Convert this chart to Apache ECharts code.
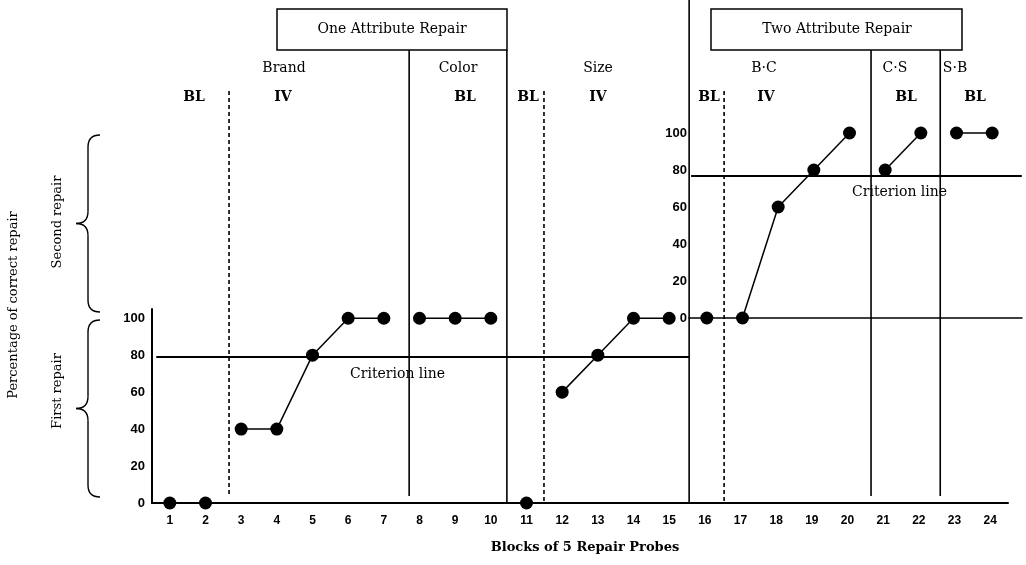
<!DOCTYPE html>
<html><head><meta charset="utf-8">
<script src="https://cdn.jsdelivr.net/npm/echarts@6/dist/echarts.min.js"></script>
<style>html,body{margin:0;padding:0;background:#fff}#c{width:1026px;height:565px}</style>
</head><body><div id="c"></div>
<script>
// ---- data ----
const blocks = ['1','2','3','4','5','6','7','8','9','10','11','12','13','14','15','16','17','18','19','20','21','22','23','24'];
const firstRepair = [0,0,40,40,80,100,100,100,100,100,0,60,80,100,100];   // blocks 1-15
const secondRepair = [0,0,60,80,100,80,100,100,100];                       // blocks 16-24
const phases = [[1,2],[3,7],[8,10],[11,11],[12,15],[16,16],[17,20],[21,22],[23,24]];
const yTickLabels = [0,20,40,60,80,100];
const criterionFirst = 79;
const criterionSecond = 77;
// phase-change lines (block position, dashed?)
const phaseLines = [[2.66,true],[7.71,false],[10.45,false],[11.49,true],[16.54,true],[20.66,false],[22.6,false]];

const serif = 'DejaVu Serif';
const sans = 'Liberation Sans';
const blk = '#000';

const series = [];
phases.forEach((p) => {
  const first = p[0] <= 15;
  const data = [];
  for (let b = p[0]; b <= p[1]; b++) {
    data.push([b, first ? firstRepair[b-1] : secondRepair[b-16]]);
  }
  series.push({
    type: 'line', data, xAxisIndex: first ? 1 : 2, yAxisIndex: first ? 0 : 1,
    symbol: 'circle', symbolSize: 13, clip: false, z: 5,
    itemStyle: {color: blk}, lineStyle: {color: blk, width: 1.5}, emphasis: {disabled: true}
  });
});
// criterion lines
series.push({
  type: 'line', data: [], xAxisIndex: 1, yAxisIndex: 0, z: 3,
  markLine: {silent: true, symbol: 'none', label: {show: false}, lineStyle: {color: blk, width: 1.8, type: 'solid'},
    data: [[{coord: [0.62, criterionFirst]}, {coord: [15.56, criterionFirst]}]]}
});
series.push({
  type: 'line', data: [], xAxisIndex: 2, yAxisIndex: 1, z: 3,
  markLine: {silent: true, symbol: 'none', label: {show: false}, lineStyle: {color: blk, width: 1.8, type: 'solid'},
    data: [[{coord: [15.56, criterionSecond]}, {coord: [24.83, criterionSecond]}]]}
});

const yLabel = {color: blk, fontFamily: sans, fontWeight: 'bold', fontSize: 13,
  formatter: v => yTickLabels.indexOf(v) >= 0 ? String(v) : ''};

const chart = echarts.init(document.getElementById('c'), null, {renderer: 'canvas'});
chart.setOption({
  animation: false,
  backgroundColor: '#fff',
  grid: [
    {left: 152, right: 18, top: 309, bottom: 62},
    {left: 689, right: 4, top: 133, bottom: 247}
  ],
  xAxis: [
    {type: 'category', gridIndex: 0, data: blocks, boundaryGap: true,
     axisLine: {lineStyle: {color: blk, width: 2}},
     axisTick: {inside: true, length: 4, interval: 0, lineStyle: {color: blk, width: 1}},
     axisLabel: {interval: 0, color: blk, fontFamily: sans, fontWeight: 'bold', fontSize: 12, margin: 12},
     splitLine: {show: false}},
    {type: 'value', gridIndex: 0, min: 0.5, max: 24.5, show: false},
    {type: 'value', gridIndex: 1, min: 15.5, max: 24.836,
     axisLine: {show: true, onZero: false, lineStyle: {color: blk, width: 1.5}},
     axisTick: {show: false}, axisLabel: {show: false}, splitLine: {show: false}}
  ],
  yAxis: [
    {type: 'value', gridIndex: 0, min: 0, max: 105, interval: 20,
     axisLine: {show: true, lineStyle: {color: blk, width: 2}}, axisTick: {show: false},
     axisLabel: Object.assign({margin: 7, showMaxLabel: false}, yLabel), splitLine: {show: false}},
    {type: 'value', gridIndex: 1, min: 0, max: 100, interval: 20,
     axisLine: {show: false}, axisTick: {show: false},
     axisLabel: Object.assign({margin: 2}, yLabel), splitLine: {show: false}}
  ],
  series
});

const px = v => chart.convertToPixel({xAxisIndex: 1}, v);
const g = [];
const lineStyle = (dash) => ({stroke: blk, lineWidth: 1.6, lineDash: dash ? [4, 3] : null});
// right (second repair) axis full-height line
g.push({type: 'line', shape: {x1: px(15.56), y1: 0, x2: px(15.56), y2: 503}, style: lineStyle(false), z: 10});
phaseLines.forEach(([x, dashed]) => {
  const top = dashed ? 91 : 50;
  const bottom = (x > 10 && x < 11) ? 503 : (dashed && x > 11 ? 503 : 496);
  g.push({type: 'line', shape: {x1: px(x), y1: top, x2: px(x), y2: bottom}, style: lineStyle(dashed), z: 10});
});
// boxes
g.push({type: 'rect', shape: {x: 277, y: 9, width: 230, height: 41}, style: {fill: '#fff', stroke: blk, lineWidth: 1.5}, z: 11});
g.push({type: 'rect', shape: {x: 711, y: 9, width: 251, height: 41}, style: {fill: '#fff', stroke: blk, lineWidth: 1.5}, z: 11});
const txt = (t, x, y, opts) => g.push({type: 'text', x, y, z: 12,
  style: Object.assign({text: t, fill: blk, font: '14px "' + serif + '"', align: 'center', verticalAlign: 'middle'}, opts || {})});
txt('One Attribute Repair', 392, 29);
txt('Two Attribute Repair', 837, 29);
[['Brand',284],['Color',458],['Size',598],['B·C',764],['C·S',895],['S·B',955]].forEach(([t,x]) => txt(t, x, 68));
[['BL',194],['IV',283],['BL',465],['BL',528],['IV',598],['BL',709],['IV',766],['BL',906],['BL',975]].forEach(([t,x]) => txt(t, x, 97, {font: 'bold 14px "' + serif + '"'}));
txt('Criterion line', 350, 374, {align: 'left'});
txt('Criterion line', 852, 192, {align: 'left'});
txt('Blocks of 5 Repair Probes', 585, 548, {font: 'bold 13px "' + serif + '"'});
// vertical titles
[['Percentage of correct repair', 14, 305], ['Second repair', 58, 222], ['First repair', 58, 391]].forEach(([t, x, y]) => {
  g.push({type: 'text', x, y, rotation: Math.PI / 2, z: 12,
    style: {text: t, fill: blk, font: '13px "' + serif + '"', align: 'center', verticalAlign: 'middle'}});
});
// braces built from quadratic curves and straight segments
function brace(top, bottom) {
  const xe = 100, xm = 88, xt = 76, mid = (top + bottom) / 2;
  const st = {stroke: blk, lineWidth: 1.4, fill: null};
  return [
    {type: 'bezierCurve', shape: {x1: xe, y1: top, cpx1: xm, cpy1: top, x2: xm, y2: top + 12}, style: st, z: 10},
    {type: 'line', shape: {x1: xm, y1: top + 12, x2: xm, y2: mid - 12}, style: st, z: 10},
    {type: 'bezierCurve', shape: {x1: xm, y1: mid - 12, cpx1: xm, cpy1: mid, x2: xt, y2: mid}, style: st, z: 10},
    {type: 'bezierCurve', shape: {x1: xt, y1: mid, cpx1: xm, cpy1: mid, x2: xm, y2: mid + 12}, style: st, z: 10},
    {type: 'line', shape: {x1: xm, y1: mid + 12, x2: xm, y2: bottom - 12}, style: st, z: 10},
    {type: 'bezierCurve', shape: {x1: xm, y1: bottom - 12, cpx1: xm, cpy1: bottom, x2: xe, y2: bottom}, style: st, z: 10}
  ];
}
brace(135, 312).forEach(e => g.push(e));
brace(320, 497).forEach(e => g.push(e));
chart.setOption({graphic: g});
</script>
</body></html>
